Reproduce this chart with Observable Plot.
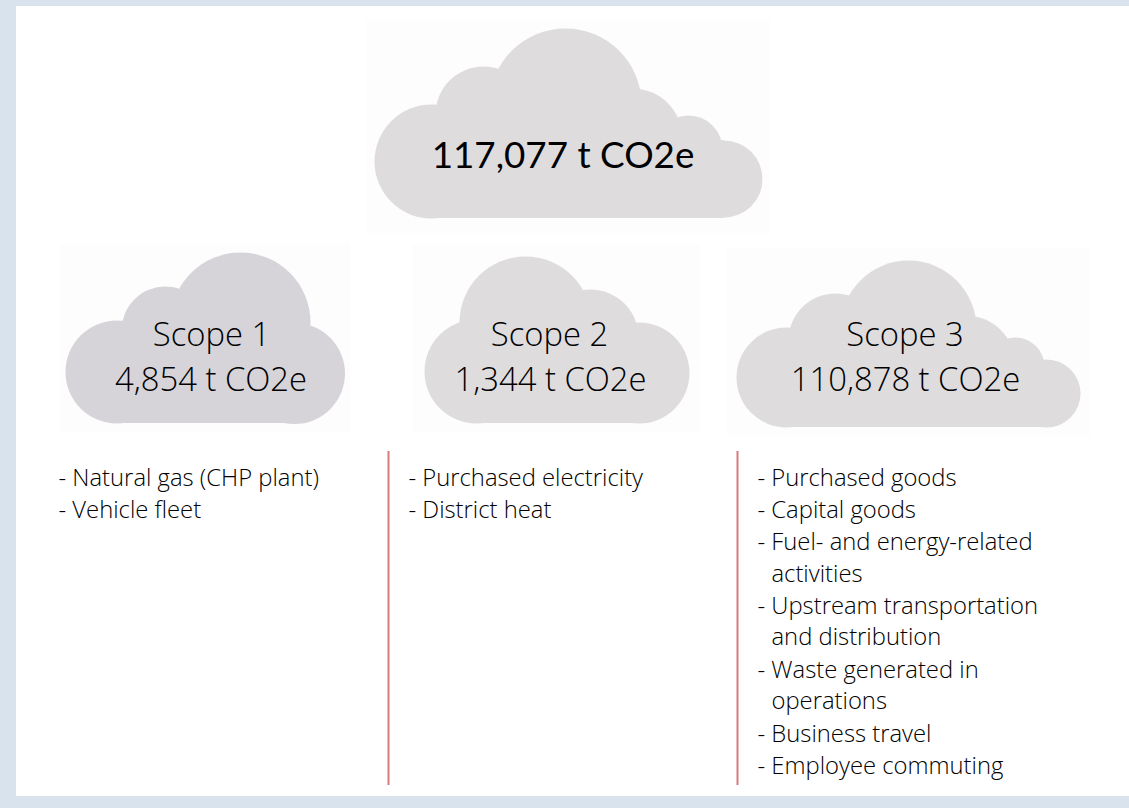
<!DOCTYPE html>
<html>
<head>
<meta charset="utf-8">
<style>
html,body{margin:0;padding:0;background:#d9e3ed;overflow:hidden}
svg{display:block}
</style>
<script src="https://cdn.jsdelivr.net/npm/d3@7"></script>
<script src="https://cdn.jsdelivr.net/npm/@observablehq/plot@0.6"></script>
</head>
<body>
<script>
// Cloud outlines: one list of lobes and one base per cloud
const totalLobes = [[431,161,57],[483,114,48],[565,104,76],[632,138,50],[688,149,34],[723.5,178.5,38.5]];
const scope1Lobes = [[116.5,371.5,51.5],[165,330,44],[240,322,70],[294,373,50.5]];
const scope2Lobes = [[476,371,52],[525,322,66],[590,337,48],[638.5,372.5,50.5]];
const scope3Lobes = [[786,377,50],[835,340,47],[908,328,68],[965,365,50],[1015,366,29],[1046,393,34]];
const cloudBases = [
  {x1:431,x2:724,y1:140,y2:218,fill:"#dfdcde"},
  {x1:116,x2:294,y1:350,y2:423,fill:"#d6d4d8"},
  {x1:476,x2:639,y1:350,y2:423,fill:"#dfdcde"},
  {x1:786,x2:1046,y1:370,y2:427,fill:"#dfdcde"}
];
const cloudFills = ["#dfdcde","#d6d4d8","#dfdcde","#dfdcde"];
const allLobes = [totalLobes,scope1Lobes,scope2Lobes,scope3Lobes]
  .flatMap((lobes,i)=>lobes.map(([x,y,r])=>({x,y,r,fill:cloudFills[i]})));
const imageBoxes = [
  {x1:366,x2:770,y1:20,y2:233},
  {x1:60,x2:350,y1:243,y2:432},
  {x1:413,x2:700,y1:243,y2:432},
  {x1:727,x2:1090,y1:248,y2:435}
];

const totalLabel = [{x:562.5,y:167,text:"117,077 t CO2e"}];
const scopeLabels = [
  {x:211,y:345,text:"Scope 1"},{x:210.5,y:390,text:"4,854 t CO2e"},
  {x:549,y:345,text:"Scope 2"},{x:550,y:390,text:"1,344 t CO2e"},
  {x:904.5,y:345,text:"Scope 3"},{x:905,y:390,text:"110,878 t CO2e"}
];
const listItems = [
  {x:58,y:485,text:"- Natural gas (CHP plant)"},
  {x:58,y:517,text:"- Vehicle fleet"},
  {x:408,y:485,text:"- Purchased electricity"},
  {x:408,y:517,text:"- District heat"},
  {x:757,y:485,text:"- Purchased goods"},
  {x:757,y:517,text:"- Capital goods"},
  {x:757,y:549,text:"- Fuel- and energy-related"},
  {x:771,y:581,text:"activities"},
  {x:757,y:613,text:"- Upstream transportation"},
  {x:771,y:644,text:"and distribution"},
  {x:757,y:677,text:"- Waste generated in"},
  {x:771,y:708,text:"operations"},
  {x:757,y:741,text:"- Business travel"},
  {x:757,y:773,text:"- Employee commuting"}
];
const dividers = [{x:388,y1:451,y2:785},{x:737,y1:451,y2:785}];
const panel = [{x1:16,x2:1129,y1:6,y2:796}];

const lightFont = "'Open Sans', sans-serif";

const chart = Plot.plot({
  width:1129, height:808, margin:0,
  x:{type:"identity"}, y:{type:"identity"}, r:{type:"identity"},
  axis:null,
  style:{background:"#d9e3ed"},
  marks:[
    Plot.rectY(panel,{x1:"x1",x2:"x2",y1:"y1",y2:"y2",fill:"white"}),
    Plot.rectY(imageBoxes,{x1:"x1",x2:"x2",y1:"y1",y2:"y2",fill:"#fdfdfd"}),
    Plot.dot(allLobes,{x:"x",y:"y",r:"r",fill:"fill",stroke:null}),
    Plot.rectY(cloudBases,{x1:"x1",x2:"x2",y1:"y1",y2:"y2",fill:"fill"}),
    Plot.ruleX(dividers,{x:"x",y1:"y1",y2:"y2",stroke:"#d97b7b",strokeWidth:2}),
    Plot.text(totalLabel,{x:"x",y:"y",text:"text",lineAnchor:"bottom",textAnchor:"middle",fontSize:36.8,fontFamily:"Lato, sans-serif",fill:"#000"}),
    Plot.text(scopeLabels,{x:"x",y:"y",text:"text",lineAnchor:"bottom",textAnchor:"middle",fontSize:32.8,fontWeight:300,fontFamily:lightFont,fill:"#000"}),
    Plot.text(listItems,{x:"x",y:"y",text:"text",lineAnchor:"bottom",textAnchor:"start",fontSize:23.8,fontWeight:300,fontFamily:lightFont,fill:"#000"})
  ]
});
document.body.appendChild(chart);
</script>
</body>
</html>
